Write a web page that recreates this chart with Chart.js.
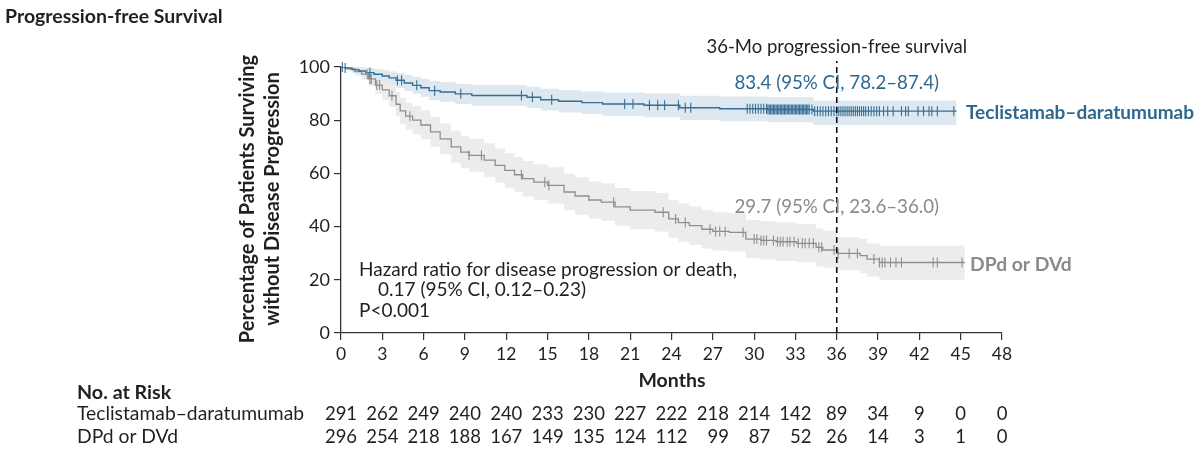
<!DOCTYPE html>
<html>
<head>
<meta charset="utf-8">
<script src="https://cdn.jsdelivr.net/npm/chart.js@4.4.1/dist/chart.umd.min.js"></script>
<style>
  html, body { margin: 0; padding: 0; background: #fff; }
</style>
</head>
<body>
<canvas id="km" width="1200" height="458"></canvas>
<script>
// --- Datos ---
const riskMonths = [0, 3, 6, 9, 12, 15, 18, 21, 24, 27, 30, 33, 36, 39, 42, 45, 48];
const tecRisk = [291, 262, 249, 240, 240, 233, 230, 227, 222, 218, 214, 142, 89, 34, 9, 0, 0];
const dpdRisk = [296, 254, 218, 188, 167, 149, 135, 124, 112, 99, 87, 52, 26, 14, 3, 1, 0];

// Teclistamab-daratumumab: curva Kaplan-Meier y banda IC 95%
const tecT  = [0, 0.3, 0.8, 1.3, 1.8, 2.4, 3, 3.5, 4, 4.6, 5.2, 5.8, 6.4, 7.2, 8.3, 9.5, 13.5, 14.5, 15.8, 17.5, 19, 22, 24.6, 27.5, 31, 34.3, 44.7];
const tecS  = [100, 99.6, 99, 98.5, 97.9, 97.3, 96.6, 95.9, 95, 94, 93.1, 92.2, 91.1, 90.6, 89.9, 89.3, 88.6, 87.7, 87.1, 86.6, 86.1, 85.6, 84.7, 84.3, 84.0, 83.4, 83.4];
const tecHi = [100, 100, 100, 99.9, 99.6, 99.2, 98.8, 98.3, 97.7, 97.0, 96.3, 95.6, 94.7, 94.3, 93.7, 93.2, 92.6, 91.8, 91.3, 90.8, 90.4, 90.0, 89.2, 88.9, 88.6, 87.4, 87.4];
const tecLo = [100, 98.8, 97.8, 97.0, 96.0, 95.2, 94.2, 93.3, 92.2, 91.0, 89.9, 88.8, 87.5, 86.9, 86.1, 85.4, 84.6, 83.6, 82.9, 82.3, 81.7, 81.1, 80.1, 79.6, 79.2, 78.2, 78.2];
const tecCens = [0.1, 0.3, 2.1, 4.1, 4.4, 5.5, 6.8, 8.7, 13.1, 13.9, 15.3, 20.6, 21.2, 22.4, 23.0, 23.5, 24.5, 25.0, 25.4,
  29.5, 29.7, 29.9, 30.1, 30.3, 30.5, 30.7, 30.9, 31.0, 31.1, 31.2, 31.3, 31.4, 31.5, 31.6, 31.7, 31.8, 31.9, 32.0, 32.1,
  32.2, 32.3, 32.4, 32.5, 32.6, 32.7, 32.8, 32.9, 33.0, 33.1, 33.2, 33.3, 33.4, 33.5, 33.6, 33.7, 33.8, 33.9, 34.0,
  34.2, 34.4, 34.6, 34.8, 35.0, 35.2, 35.4, 35.6, 35.8, 36.0, 36.15, 36.3, 36.45, 36.6, 36.75, 36.9, 37.05, 37.2, 37.35,
  37.5, 37.65, 37.8, 37.95, 38.1, 38.3, 38.5, 38.7, 38.9, 39.1, 39.4, 39.7, 40.1, 40.7, 41.0, 41.2, 41.9, 42.3, 42.7,
  42.9, 43.3, 44.5];

// DPd o DVd: curva Kaplan-Meier y banda IC 95%
const dpdT  = [0, 0.5, 1, 1.5, 2, 2.5, 3, 3.5, 4, 4.3, 4.7, 5.2, 5.8, 6.5, 7.2, 8, 8.7, 9.3, 10.4, 11.2, 11.9, 12.6, 13.2, 14, 15, 16.2, 17, 18, 18.9, 19.9, 21, 22.8, 23.8, 24.5, 25.3, 26.2, 27, 28.2, 29.4, 30.5, 31.6, 33.1, 34.5, 35, 36, 37.7, 38.2, 39.1, 45.3];
const dpdS  = [100, 99.3, 98.3, 97.3, 95.5, 93.2, 91.4, 89.2, 86, 83.5, 81.5, 80, 78.2, 75.6, 73, 70, 68, 66.8, 65, 63, 61.1, 59.5, 58, 56.7, 55.5, 53, 51.5, 50, 49.2, 47.4, 46.2, 45.4, 42.9, 41.5, 40.4, 39, 38.2, 37.8, 35.3, 34.8, 34.3, 33.7, 32.2, 31.2, 29.9, 29.1, 27.8, 26.5, 26.5];
const dpdHi = [100, 100, 99.8, 99.3, 98.2, 96.5, 95.1, 93.4, 90.6, 88.4, 86.6, 85.3, 83.6, 81.2, 78.8, 76.0, 74.1, 73.0, 71.3, 69.4, 67.6, 66.1, 64.7, 63.4, 62.3, 59.9, 58.5, 57.0, 56.3, 54.5, 53.4, 52.6, 50.1, 48.7, 47.6, 46.2, 45.4, 45.0, 42.5, 42.0, 41.5, 40.9, 39.4, 38.4, 36.0, 35.3, 33.6, 32.8, 32.8];
const dpdLo = [100, 98.3, 96.8, 95.3, 92.8, 89.9, 87.7, 85.0, 81.4, 78.6, 76.4, 74.7, 72.8, 70.0, 67.2, 64.0, 61.9, 60.6, 58.7, 56.6, 54.6, 53.0, 51.3, 50.0, 48.7, 46.1, 44.5, 43.0, 42.2, 40.3, 39.0, 38.2, 35.7, 34.3, 33.2, 31.8, 31.0, 30.6, 28.1, 27.6, 27.1, 26.6, 25.1, 24.5, 23.6, 22.6, 21.2, 20.0, 20.0];
const dpdCens = [1.9, 2.1, 2.2, 2.6, 2.8, 3.7, 5.0, 9.3, 10.2, 13.1, 14.8, 15.1, 19.8, 23.4, 24.3, 25.0, 26.8, 27.2, 27.5, 27.9,
  29.2, 30.0, 30.2, 30.5, 30.7, 30.9, 31.4, 31.7, 31.9, 32.1, 32.4, 32.6, 32.9, 33.2, 33.5, 33.7, 34.0, 34.3, 34.7, 34.9,
  35.8, 36.1, 36.9, 37.5, 38.7, 39.1, 39.3, 39.5, 39.9, 40.3, 40.7, 43.0, 43.3, 45.1];

const BLUE = '#356f96', BLUE_BAND = '#dde8f0', BLUE_TXT = '#2d6890';
const GRAY = '#8e8e8e', GRAY_BAND = '#ececec', GRAY_TXT = '#8a8a8a';
const INK = '#231f20';
const FONT = 'Lato';

// Convierte dos arrays en puntos {x, y}
const pts = (T, V) => T.map((t, i) => ({ x: t, y: V[i] }));
// Valor de la curva escalonada en el instante t (para marcar censuras sobre la línea)
const stepAt = (T, S, t) => { let v = S[0]; T.forEach((tt, i) => { if (tt <= t) v = S[i]; }); return v; };

// --- Plugin con los textos, la línea de 36 meses y la tabla de pacientes en riesgo ---
const annotations = {
  id: 'annotations',
  afterDraw(chart) {
    const { ctx } = chart;
    const xs = chart.scales.x, ys = chart.scales.y;
    const txt = (s, x, y, font, color, align) => {
      ctx.font = font; ctx.fillStyle = color; ctx.textAlign = align || 'left'; ctx.textBaseline = 'middle';
      ctx.fillText(s, x, y);
    };
    ctx.save();

    // línea discontinua a los 36 meses
    const x36 = xs.getPixelForValue(36);
    ctx.strokeStyle = '#111'; ctx.lineWidth = 1.6; ctx.setLineDash([6, 4]);
    ctx.beginPath(); ctx.moveTo(x36, ys.getPixelForValue(0)); ctx.lineTo(x36, 61); ctx.stroke();
    ctx.setLineDash([]);

    txt('Progression-free Survival', 5, 17, `bold 19.5px ${FONT}`, INK);

    // título del eje Y en dos líneas
    ctx.save();
    ctx.translate(248, 199); ctx.rotate(-Math.PI / 2);
    txt('Percentage of Patients Surviving', 0, 0, `bold 20px ${FONT}`, INK, 'center');
    txt('without Disease Progression', 0, 25, `bold 20px ${FONT}`, INK, 'center');
    ctx.restore();

    txt('Months', 672, 381, `bold 19.5px ${FONT}`, INK, 'center');

    txt('36-Mo progression-free survival', x36, 47, `18.5px ${FONT}`, INK, 'center');
    txt('83.4 (95% CI, 78.2\u201387.4)', x36, 83, `18.7px ${FONT}`, BLUE_TXT, 'center');
    txt('29.7 (95% CI, 23.6\u201336.0)', x36, 207, `18.7px ${FONT}`, GRAY_TXT, 'center');

    txt('Hazard ratio for disease progression or death,', 359, 270, `19px ${FONT}`, INK);
    txt('0.17 (95% CI, 0.12\u20130.23)', 378, 290, `19px ${FONT}`, INK);
    txt('P<0.001', 359, 311, `19px ${FONT}`, INK);

    txt('Teclistamab\u2013daratumumab', 966, 113, `bold 19px ${FONT}`, BLUE_TXT);
    txt('DPd or DVd', 970, 265, `bold 19.3px ${FONT}`, GRAY_TXT);

    // tabla de pacientes en riesgo
    txt('No. at Risk', 77, 393, `bold 19.7px ${FONT}`, INK);
    txt('Teclistamab\u2013daratumumab', 77, 414, `19.3px ${FONT}`, INK);
    txt('DPd or DVd', 77, 437, `19.3px ${FONT}`, INK);
    const numFont = `18.5px ${FONT}`;
    ctx.font = numFont;
    riskMonths.forEach((m, i) => {
      const a = String(tecRisk[i]), b = String(dpdRisk[i]);
      ctx.font = numFont;
      const w = Math.max(ctx.measureText(a).width, ctx.measureText(b).width);
      const right = xs.getPixelForValue(m) + w / 2;
      txt(a, right, 414, numFont, INK, 'right');
      txt(b, right, 437, numFont, INK, 'right');
    });
    ctx.restore();
  }
};

const censorStyle = (color) => ({
  showLine: false, pointStyle: 'line', rotation: 90, pointRadius: 5, pointHoverRadius: 5,
  pointBorderColor: color, pointBorderWidth: 1.1, clip: false
});

new Chart(document.getElementById('km'), {
  type: 'line',
  data: {
    datasets: [
      { data: pts(dpdT, dpdLo), stepped: true, pointRadius: 0, borderWidth: 0, borderColor: 'transparent', fill: false, order: 10 },
      { data: pts(dpdT, dpdHi), stepped: true, pointRadius: 0, borderWidth: 0, borderColor: 'transparent', backgroundColor: GRAY_BAND, fill: '-1', order: 9 },
      { data: pts(tecT, tecLo), stepped: true, pointRadius: 0, borderWidth: 0, borderColor: 'transparent', fill: false, order: 8 },
      { data: pts(tecT, tecHi), stepped: true, pointRadius: 0, borderWidth: 0, borderColor: 'transparent', backgroundColor: BLUE_BAND, fill: '-1', order: 7 },
      { data: pts(dpdT, dpdS), stepped: true, pointRadius: 0, borderWidth: 1.3, borderColor: GRAY, fill: false, order: 4 },
      { data: pts(tecT, tecS), stepped: true, pointRadius: 0, borderWidth: 1.4, borderColor: BLUE, fill: false, order: 3 },
      { data: dpdCens.map(t => ({ x: t, y: stepAt(dpdT, dpdS, t) })), ...censorStyle(GRAY), order: 2 },
      { data: tecCens.map(t => ({ x: t, y: stepAt(tecT, tecS, t) })), ...censorStyle(BLUE), order: 1 }
    ]
  },
  options: {
    responsive: false,
    animation: false,
    events: [],
    layout: { padding: { left: 229, right: 198, top: 67, bottom: 65 } },
    plugins: { legend: { display: false }, tooltip: { enabled: false } },
    scales: {
      x: {
        type: 'linear', min: 0, max: 48,
        afterFit: (s) => { s.height = 60; },
        ticks: { stepSize: 3, color: INK, font: { family: FONT, size: 17.5 }, padding: 4, maxRotation: 0 },
        grid: { drawOnChartArea: false, drawTicks: true, tickLength: 7, color: '#333', lineWidth: 1.2 },
        border: { color: '#333', width: 1.3 }
      },
      y: {
        min: 0, max: 100,
        afterFit: (s) => { s.width = 112; },
        ticks: { stepSize: 20, color: INK, font: { family: FONT, size: 18 }, padding: 4 },
        grid: { drawOnChartArea: false, drawTicks: true, tickLength: 7, color: '#333', lineWidth: 1.2 },
        border: { color: '#333', width: 1.3 }
      }
    }
  },
  plugins: [annotations]
});
</script>
</body>
</html>
